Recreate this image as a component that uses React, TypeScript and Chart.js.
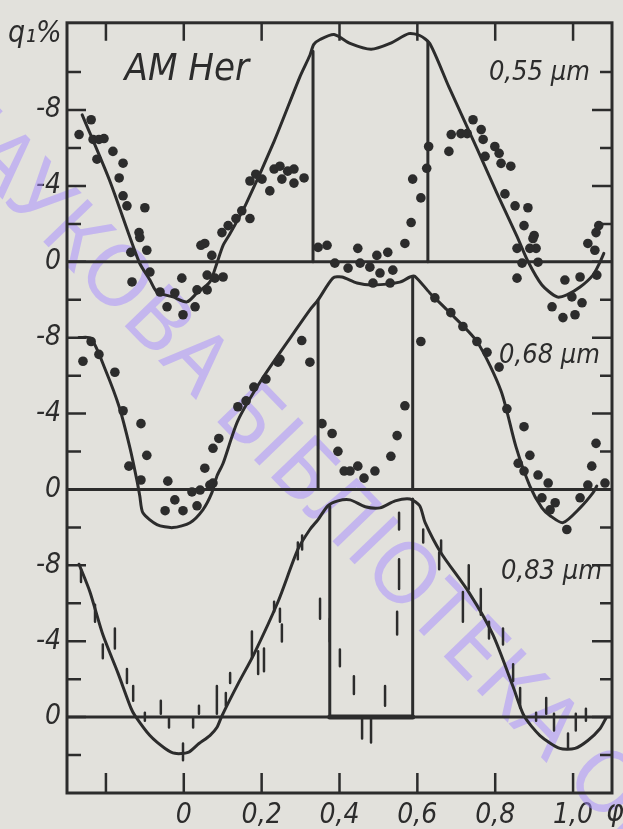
import React, { useEffect, useRef } from 'react';
import { Chart, registerables } from 'chart.js';

Chart.register(...registerables);

const INK = '#2c2c2c';
const PAPER = '#e2e1dc';
const FONT = '"DejaVu Sans Condensed", "Liberation Sans Narrow", "DejaVu Sans", sans-serif';

// ---- axes / labels ----
const phaseTicks = [-0.2, 0, 0.2, 0.4, 0.6, 0.8, 1.0];
const yTickValues = [0, 4, 8, 12, 16, 20, 24, 28, 32];
const panelOffsets = [24, 12, 0]; // vertical offset of each panel's zero line
const panelLabels = ['0,55 µm', '0,68 µm', '0,83 µm'];
const panelLabelX = [1.043, 1.069, 1.074];
const panelLabelQ = [-9.95, -7.02, -7.64];
const yTickText = ['0', '-4', '-8'];
const titleText = 'AM Her';
const yTitle = 'q₁%';
const xTitle = 'φ';
const watermark = 'НАУКОВА БІБЛІОТЕКА ОНУ';

type P = [number, number];
type B = [number, number, number];

// ---- 0.55 µm ----
const curve055: P[] = [
  [-0.261, -7.75], [-0.19, -4.26], [-0.115, 0.0], [-0.087, 0.96], [-0.069, 1.59], [-0.028, 1.85],
  [0.008, 2.11], [0.034, 1.64], [0.067, 1.06], [0.085, 0.07], [0.101, -0.87], [0.119, -1.49],
  [0.16, -3.06], [0.232, -6.35], [0.298, -9.74], [0.324, -10.89], [0.334, -11.46], [0.35, -11.72],
  [0.386, -11.98], [0.427, -11.51], [0.481, -11.2], [0.53, -11.51], [0.578, -12.03], [0.606, -11.93],
  [0.632, -11.51], [0.681, -9.22], [0.753, -5.98], [0.804, -3.63], [0.856, -1.34], [0.884, -0.03],
  [0.92, 1.22], [0.959, 1.85], [0.984, 1.74], [1.018, 1.33], [1.051, 0.7], [1.069, 0.02], [1.079, -0.45],
];
const vertX055 = [0.332, 0.627];
const vertTop055 = [-11.1, -11.6];
const dots055: P[] = [
  [-0.269, -6.71], [-0.238, -7.49], [-0.233, -6.45], [-0.218, -6.45], [-0.205, -6.5], [-0.223, -5.41],
  [-0.182, -5.82], [-0.156, -5.2], [-0.166, -4.42], [-0.156, -3.48], [-0.146, -2.95], [-0.1, -2.85],
  [-0.115, -1.54], [-0.095, -0.61], [-0.136, -0.5], [-0.113, -1.28], [-0.133, 1.06], [-0.087, 0.54],
  [-0.061, 1.59], [-0.043, 2.37], [-0.005, 0.86], [-0.023, 1.64], [-0.002, 2.79], [0.029, 2.37],
  [0.034, 1.48], [0.06, 1.48], [0.06, 0.7], [0.08, 0.86], [0.101, 0.8], [0.054, -0.97], [0.072, -0.34],
  [0.044, -0.87], [0.098, -1.54], [0.114, -1.91], [0.134, -2.28], [0.149, -2.69], [0.17, -2.28],
  [0.17, -4.26], [0.185, -4.62], [0.201, -4.36], [0.221, -3.74], [0.232, -4.89], [0.247, -5.04],
  [0.252, -4.36], [0.267, -4.78], [0.283, -4.89], [0.283, -4.15], [0.309, -4.42],
  [0.368, -0.87], [0.345, -0.76], [0.447, -0.71], [0.496, -0.34], [0.524, -0.5], [0.568, -0.97],
  [0.388, 0.07], [0.422, 0.33], [0.453, 0.07], [0.478, 0.28], [0.504, 0.59], [0.537, 0.44],
  [0.486, 1.12], [0.53, 1.12], [0.584, -2.07], [0.588, -4.36], [0.609, -3.37], [0.624, -4.93],
  [0.629, -6.08], [0.681, -5.82], [0.687, -6.71], [0.712, -6.76], [0.728, -6.76], [0.743, -7.49],
  [0.764, -6.97], [0.769, -6.45], [0.774, -5.56], [0.799, -6.08], [0.81, -5.72], [0.815, -5.19],
  [0.84, -5.04], [0.825, -3.58], [0.851, -2.95], [0.884, -2.85], [0.874, -1.91], [0.9, -1.39],
  [0.856, -0.71], [0.905, -0.71], [0.889, -0.71], [0.897, -1.23], [0.869, 0.07], [0.91, 0.02],
  [0.856, 0.86], [0.979, 0.96], [1.018, 0.8], [1.061, 0.7], [0.997, 1.85], [1.023, 2.16],
  [0.946, 2.37], [0.974, 2.94], [1.005, 2.79], [1.038, -0.97], [1.056, -0.61], [1.059, -1.54],
  [1.066, -1.91],
];

// ---- 0.68 µm ----
const curve068: P[] = [
  [-0.269, -8.01], [-0.238, -7.96], [-0.202, -6.34], [-0.166, -4.36], [-0.138, -2.17], [-0.12, -0.44],
  [-0.113, 0.34], [-0.105, 1.23], [-0.069, 1.85], [-0.028, 2.01], [0.016, 1.75], [0.049, 1.07],
  [0.072, 0.18], [0.085, -0.7], [0.101, -1.38], [0.139, -3.63], [0.201, -5.82], [0.283, -8.27],
  [0.324, -9.47], [0.345, -9.99], [0.383, -11.14], [0.406, -11.2], [0.445, -10.88], [0.486, -10.78],
  [0.555, -10.93], [0.581, -11.2], [0.593, -11.25], [0.632, -10.36], [0.676, -9.47], [0.753, -7.8],
  [0.815, -5.19], [0.853, -2.27], [0.889, -0.18], [0.92, 0.97], [0.941, 1.38], [0.974, 1.75],
  [1.018, 0.97], [1.051, 0.18], [1.061, -0.18],
];
const vertX068 = [0.345, 0.588];
const vertTop068 = [-9.99, -11.2];
const dots068: P[] = [
  [-0.238, -7.8], [-0.259, -6.76], [-0.218, -7.12], [-0.177, -6.18], [-0.156, -4.15], [-0.11, -3.47],
  [-0.095, -1.8], [-0.141, -1.23], [-0.11, -0.5], [-0.041, -0.44], [0.054, -1.12], [-0.023, 0.55],
  [-0.048, 1.12], [-0.002, 1.12], [0.034, 0.86], [0.021, 0.13], [0.067, -0.23], [0.042, 0.03],
  [0.075, -0.34], [0.075, -2.17], [0.09, -2.69], [0.139, -4.36], [0.16, -4.67], [0.18, -5.4],
  [0.211, -5.82], [0.242, -6.71], [0.247, -6.86], [0.303, -7.85], [0.324, -6.71], [0.355, -3.47],
  [0.381, -2.95], [0.396, -2.01], [0.412, -0.97], [0.427, -0.97], [0.447, -1.23], [0.463, -0.6],
  [0.491, -0.97], [0.532, -1.75], [0.548, -2.84], [0.568, -4.41], [0.609, -7.8], [0.645, -10.1],
  [0.686, -9.32], [0.717, -8.59], [0.753, -7.8], [0.779, -7.23], [0.81, -6.45], [0.83, -4.25],
  [0.874, -3.31], [0.889, -1.8], [0.859, -1.38], [0.874, -0.97], [0.91, -0.76], [0.936, -0.34],
  [0.92, 0.44], [0.954, 0.7], [0.941, 1.07], [1.018, 0.44], [1.038, -0.23], [1.082, -0.34],
  [1.048, -1.23], [0.984, 2.11], [1.059, -2.43],
];

// ---- 0.83 µm ----
const curve083: P[] = [
  [-0.269, -8.06], [-0.241, -6.6], [-0.208, -4.35], [-0.169, -2.32], [-0.136, -0.49], [-0.125, -0.07],
  [-0.087, 0.97], [-0.048, 1.65], [-0.023, 1.91], [0.011, 1.86], [0.039, 1.39], [0.067, 0.97],
  [0.085, 0.55], [0.098, -0.07], [0.139, -1.74], [0.18, -3.31], [0.242, -6.08], [0.293, -8.84],
  [0.324, -9.89], [0.345, -10.41], [0.37, -11.14], [0.396, -11.4], [0.427, -11.45], [0.466, -11.09],
  [0.504, -11.03], [0.543, -11.4], [0.581, -11.5], [0.606, -11.14], [0.62, -10.25], [0.66, -8.68],
  [0.732, -6.59], [0.794, -4.35], [0.846, -1.6], [0.874, -0.07], [0.915, 0.97], [0.966, 1.65],
  [1.005, 1.65], [1.038, 1.23], [1.069, 0.61], [1.085, 0.03],
];
const vertX083 = [0.375, 0.588];
const vertTop083 = [-11.14, -11.5];
const bars083: B[] = [
  [-0.264, -7.8, -7.12], [-0.228, -5.92, -5.03], [-0.177, -4.67, -3.62], [-0.208, -3.83, -3.1],
  [-0.146, -2.53, -1.8], [-0.13, -1.64, -0.86], [-0.1, -0.23, 0.19], [-0.059, -0.86, -0.18],
  [-0.038, 0.08, 0.55], [-0.002, 1.39, 2.28], [0.024, 0.03, 0.55], [0.039, -0.6, -0.18],
  [0.085, -1.64, -0.18], [0.108, -1.27, -0.6], [0.119, -2.32, -1.8], [0.175, -4.51, -3.1],
  [0.191, -3.47, -2.27], [0.206, -3.62, -2.42], [0.232, -6.08, -5.55], [0.247, -5.71, -5.03],
  [0.252, -4.88, -3.99], [0.293, -9.21, -8.32], [0.304, -9.57, -8.84], [0.35, -6.24, -5.19],
  [0.375, -5.19, -3.99], [0.401, -3.57, -2.68], [0.437, -2.16, -1.22], [0.458, 0.08, 1.13],
  [0.481, 0.03, 1.34], [0.517, -1.64, -0.6], [0.553, -8.32, -6.76], [0.548, -5.55, -4.35],
  [0.553, -10.77, -9.89], [0.615, -9.89, -9.21], [0.656, -8.68, -7.8], [0.661, -9.31, -8.68],
  [0.717, -6.6, -5.03], [0.732, -8.01, -6.76], [0.763, -6.76, -5.4], [0.784, -5.03, -4.14],
  [0.82, -4.67, -3.83], [0.846, -2.79, -1.9], [0.864, -1.54, -0.49], [0.905, -0.23, 0.19],
  [0.931, -1.01, -0.18], [0.951, -0.18, 0.71], [0.987, 0.87, 1.6], [1.007, -0.18, 0.71],
  [1.033, -0.44, 0.19],
];
const zeroBand083: P[] = [[0.375, 0], [0.588, 0]];

const X_MIN = -0.3;
const X_MAX = 1.1;
const Y_MIN = -4;
const Y_MAX = 36.6;

const toPts = (arr: P[], off: number) => arr.map(([x, q]) => ({ x, y: off - q }));
const vertPts = (xs: number[], tops: number[], off: number) => {
  const out: { x: number; y: number | null }[] = [];
  xs.forEach((x, i) => {
    out.push({ x, y: off - tops[i] }, { x, y: off }, { x, y: null });
  });
  return out;
};
const barPts = (bars: B[], off: number) => {
  const out: { x: number; y: number | null }[] = [];
  bars.forEach(([x, a, b]) => {
    out.push({ x, y: off - a }, { x, y: off - b }, { x, y: null });
  });
  return out;
};

const lineDs = (data: any[], width = 3) => ({
  type: 'scatter' as const,
  data,
  showLine: true,
  spanGaps: false,
  borderColor: INK,
  borderWidth: width,
  borderCapStyle: 'round' as const,
  borderJoinStyle: 'round' as const,
  pointRadius: 0,
  pointHoverRadius: 0,
  tension: 0,
});

const frameAndText = {
  id: 'frameAndText',
  beforeDraw(chart: any) {
    const { ctx, width, height } = chart;
    ctx.save();
    ctx.fillStyle = PAPER;
    ctx.fillRect(0, 0, width, height);
    ctx.restore();
  },
  beforeDatasetsDraw(chart: any) {
    const { ctx } = chart;
    ctx.save();
    ctx.translate(-80, 114);
    ctx.rotate((46 * Math.PI) / 180);
    ctx.font = '86px "Noto Sans", "DejaVu Sans", sans-serif';
    ctx.fillStyle = 'rgba(165,140,255,0.5)';
    ctx.textBaseline = 'alphabetic';
    ctx.fillText(watermark, 0, 0);
    ctx.restore();
  },
  afterDatasetsDraw(chart: any) {
    const { ctx, chartArea } = chart;
    const xs = chart.scales.x;
    const ys = chart.scales.y;
    const { left, right, top, bottom } = chartArea;
    ctx.save();
    ctx.strokeStyle = INK;
    ctx.lineWidth = 3;
    ctx.lineCap = 'butt';
    ctx.strokeRect(left, top, right - left, bottom - top);
    // inner ticks on left and right
    ctx.lineWidth = 2.5;
    for (let v = -2; v <= 34; v += 2) {
      const y = ys.getPixelForValue(v);
      const major = v % 4 === 0;
      const lenL = major ? 19 : 14;
      const lenR = major ? 20 : 12;
      ctx.beginPath();
      ctx.moveTo(left, y);
      ctx.lineTo(left + lenL, y);
      ctx.moveTo(right, y);
      ctx.lineTo(right - lenR, y);
      ctx.stroke();
    }
    // top & bottom ticks
    phaseTicks.forEach((t) => {
      const x = xs.getPixelForValue(t);
      ctx.beginPath();
      ctx.moveTo(x, top);
      ctx.lineTo(x, top + 18);
      ctx.moveTo(x, bottom);
      ctx.lineTo(x, bottom - 20);
      ctx.stroke();
    });
    // texts
    ctx.fillStyle = INK;
    ctx.font = `italic 30px ${FONT}`;
    ctx.textAlign = 'left';
    ctx.textBaseline = 'alphabetic';
    ctx.fillText(yTitle, 8, 42);
    ctx.font = `italic 38px ${FONT}`;
    ctx.fillText(titleText, xs.getPixelForValue(-0.152), ys.getPixelForValue(33.6));
    ctx.font = `italic 27px ${FONT}`;
    ctx.textAlign = 'right';
    ctx.textBaseline = 'middle';
    panelLabels.forEach((lab, i) => {
      ctx.fillText(lab, xs.getPixelForValue(panelLabelX[i]), ys.getPixelForValue(panelOffsets[i] - panelLabelQ[i]));
    });
    ctx.textAlign = 'left';
    ctx.font = `italic 30px ${FONT}`;
    ctx.fillText(xTitle, right - 6, bottom + 20);
    ctx.restore();
  },
};

export default function App() {
  const ref = useRef<HTMLCanvasElement>(null);
  useEffect(() => {
    document.body.style.margin = '0';
    const datasets: any[] = [];
    // zero lines
    panelOffsets.forEach((off) => {
      datasets.push(lineDs([{ x: X_MIN, y: off }, { x: X_MAX, y: off }], 3));
    });
    datasets.push(lineDs(toPts(zeroBand083, 0), 5));
    // curves
    datasets.push({ ...lineDs(toPts(curve055, panelOffsets[0]), 3), tension: 0.25 });
    datasets.push({ ...lineDs(toPts(curve068, panelOffsets[1]), 3), tension: 0.25 });
    datasets.push({ ...lineDs(toPts(curve083, panelOffsets[2]), 3), tension: 0.25 });
    // vertical edges
    datasets.push(lineDs(vertPts(vertX055, vertTop055, panelOffsets[0]), 3));
    datasets.push(lineDs(vertPts(vertX068, vertTop068, panelOffsets[1]), 3));
    datasets.push(lineDs(vertPts(vertX083, vertTop083, panelOffsets[2]), 3));
    // 0.83 bars
    datasets.push(lineDs(barPts(bars083, panelOffsets[2]), 2.5));
    // dots
    [dots055, dots068].forEach((d, i) => {
      datasets.push({
        type: 'scatter',
        data: toPts(d, panelOffsets[i]),
        showLine: false,
        pointRadius: 4.8,
        pointHoverRadius: 4.8,
        pointBackgroundColor: INK,
        pointBorderWidth: 0,
        borderColor: INK,
      });
    });

    const chart = new Chart(ref.current!, {
      type: 'scatter',
      data: { datasets },
      options: {
        animation: false,
        responsive: false,
        devicePixelRatio: 1,
        events: [],
        layout: { padding: { top: 15, right: 11, left: 0, bottom: 0 } },
        plugins: { legend: { display: false }, tooltip: { enabled: false } },
        scales: {
          x: {
            type: 'linear',
            min: X_MIN,
            max: X_MAX,
            grid: { display: false, drawTicks: false },
            border: { display: false },
            afterBuildTicks: (s: any) => {
              s.ticks = phaseTicks.map((value) => ({ value }));
            },
            afterFit: (s: any) => {
              s.height = 36;
            },
            ticks: {
              autoSkip: false,
              maxRotation: 0,
              minRotation: 0,
              padding: 6,
              color: INK,
              font: { family: FONT, size: 28, style: 'italic' },
              callback: (val: any) => {
                const v = Number(val);
                if (v < -0.01) return '';
                return Math.abs(v) < 1e-9 ? '0' : v.toFixed(1).replace('.', ',');
              },
            },
          },
          y: {
            type: 'linear',
            min: Y_MIN,
            max: Y_MAX,
            grid: { display: false, drawTicks: false },
            border: { display: false },
            afterBuildTicks: (s: any) => {
              s.ticks = yTickValues.map((value) => ({ value }));
            },
            afterFit: (s: any) => {
              s.width = 67;
            },
            ticks: {
              autoSkip: false,
              padding: 6,
              color: INK,
              font: { family: FONT, size: 28, style: 'italic' },
              callback: (val: any) => {
                const k = Math.round(Number(val) / 4);
                return yTickText[((k % 3) + 3) % 3];
              },
            },
          },
        },
      },
      plugins: [frameAndText],
    } as any);
    return () => chart.destroy();
  }, []);
  return (
    <div style={{ position: 'absolute', left: 0, top: 0, width: 623, height: 829 }}>
      <canvas ref={ref} width={623} height={829} style={{ display: 'block', width: 623, height: 829 }} />
    </div>
  );
}
